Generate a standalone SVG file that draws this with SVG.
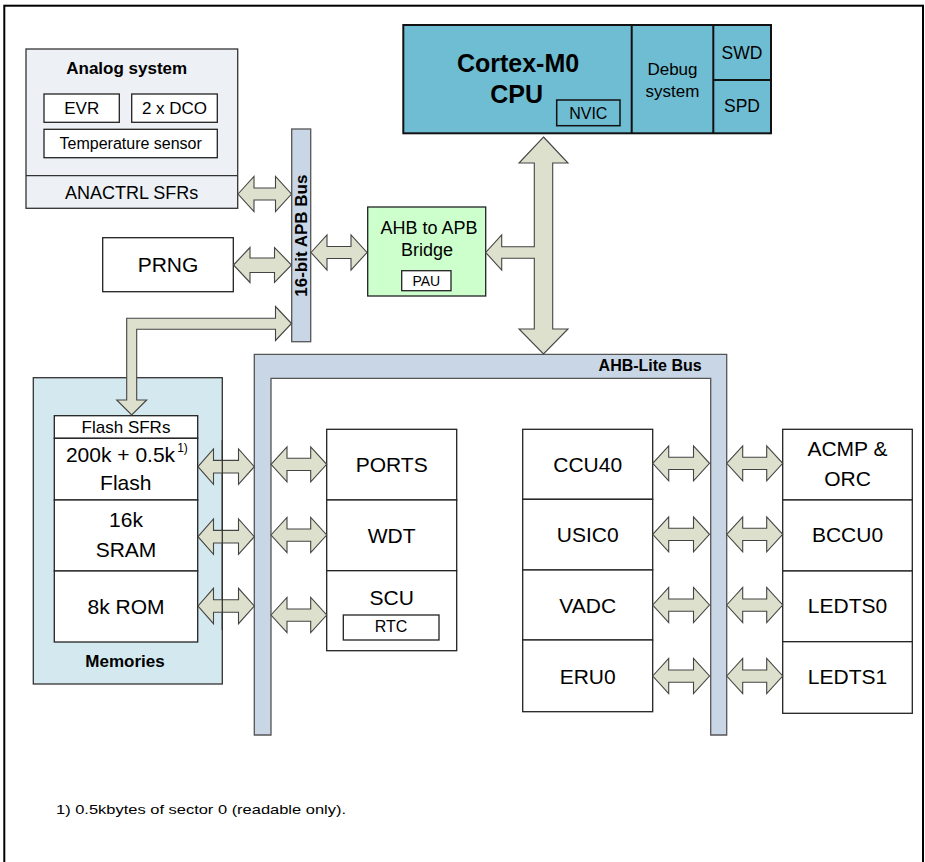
<svg xmlns="http://www.w3.org/2000/svg" width="925" height="862" viewBox="0 0 925 862">
<style>
text{font-family:"Liberation Sans",Arial,sans-serif;fill:#000;text-anchor:middle}
.b{font-weight:bold}
.box{fill:#fff;stroke:#222;stroke-width:1.3}
.arr{fill:#dde0cc;stroke:#444;stroke-width:1.1;stroke-linejoin:miter}
.bus{fill:#c9d6e6;stroke:#555;stroke-width:1.3}
.cpu{fill:#6fbdd2;stroke:#111;stroke-width:2}
</style>
<rect x="4.3" y="5.7" width="918.7" height="870" fill="#fff" stroke="#000" stroke-width="2"/>

<g id="analog">
<rect x="26" y="49" width="211.7" height="159.3" fill="#edf1f6" stroke="#333" stroke-width="1.3"/>
<line x1="26" y1="175.7" x2="237.7" y2="175.7" stroke="#333" stroke-width="1.3"/>
<text class="b" x="126.7" y="73.5" font-size="17">Analog system</text>
<rect class="box" x="44" y="94" width="75.3" height="28.3"/>
<text x="81.7" y="113.5" font-size="17">EVR</text>
<rect class="box" x="131.7" y="94" width="85.6" height="28.3"/>
<text x="174.5" y="113.5" font-size="17">2 x DCO</text>
<rect class="box" x="44" y="129.3" width="173.3" height="28.4"/>
<text x="130.7" y="148.5" font-size="16">Temperature sensor</text>
<text x="131.7" y="199" font-size="18">ANACTRL SFRs</text>
</g>

<g id="prng">
<rect class="box" x="102.7" y="237.7" width="130.6" height="54"/>
<text x="168" y="272" font-size="21">PRNG</text>
</g>

<g id="apb-bus">
<rect class="bus" x="291.7" y="129" width="19" height="212.7"/>
<text class="b" font-size="17" transform="translate(306.5,235.7) rotate(-90)">16-bit APB Bus</text>
</g>

<g id="bridge">
<rect x="367.7" y="207" width="118" height="89" fill="#ccffcc" stroke="#222" stroke-width="1.3"/>
<text x="429" y="233.5" font-size="18">AHB to APB</text>
<text x="427" y="256" font-size="18">Bridge</text>
<rect class="box" x="401.7" y="270.7" width="49.3" height="20" fill="none"/>
<text x="426.3" y="285.5" font-size="14">PAU</text>
</g>

<g id="cpu">
<rect class="cpu" x="403.3" y="25" width="367.7" height="108.3"/>
<line x1="631.7" y1="25" x2="631.7" y2="133.3" stroke="#111" stroke-width="2"/>
<line x1="713.3" y1="25" x2="713.3" y2="133.3" stroke="#111" stroke-width="2"/>
<line x1="713.3" y1="80" x2="771" y2="80" stroke="#111" stroke-width="2"/>
<text class="b" x="518" y="71.7" font-size="25">Cortex-M0</text>
<text class="b" x="516.7" y="102.7" font-size="25">CPU</text>
<rect x="556.7" y="100" width="63.3" height="25.7" fill="none" stroke="#111" stroke-width="1.5"/>
<text x="588.3" y="118.5" font-size="16">NVIC</text>
<text x="672.5" y="75" font-size="17">Debug</text>
<text x="672.5" y="97.3" font-size="17">system</text>
<text x="742" y="59" font-size="17.5">SWD</text>
<text x="742" y="111.7" font-size="17.5">SPD</text>
</g>

<g id="ahb-bus">
<path class="bus" d="M254.3,354.3 L726.7,354.3 L726.7,735 L710.7,735 L710.7,378.3 L271,378.3 L271,735 L254.3,735 Z"/>
<text class="b" x="701.7" y="370.5" font-size="16" style="text-anchor:end">AHB-Lite Bus</text>
</g>

<g id="memories">
<rect x="33.3" y="377.7" width="189" height="306.3" fill="#d3e9ef" stroke="#333" stroke-width="1.3"/>
<rect class="box" x="54.3" y="415.7" width="143.4" height="22.6"/>
<text x="126" y="432.5" font-size="17">Flash SFRs</text>
<rect class="box" x="54.3" y="438.3" width="143.4" height="61.7"/>
<text x="120.5" y="461.7" font-size="21">200k + 0.5k</text>
<text x="182.5" y="451.7" font-size="12">1)</text>
<text x="125.8" y="490" font-size="21">Flash</text>
<rect class="box" x="54.3" y="500" width="143.4" height="71"/>
<text x="126" y="527.3" font-size="21">16k</text>
<text x="126" y="556.7" font-size="21">SRAM</text>
<rect class="box" x="54.3" y="571" width="143.4" height="71"/>
<text x="126" y="614" font-size="21">8k ROM</text>
<text class="b" x="125" y="666.7" font-size="17">Memories</text>
</g>

<g id="ports">
<rect class="box" x="326.7" y="429.3" width="130" height="70.7"/>
<text x="391.7" y="471.7" font-size="21">PORTS</text>
</g>
<g id="wdt">
<rect class="box" x="326.7" y="500" width="130" height="70.7"/>
<text x="391.7" y="542.7" font-size="21">WDT</text>
</g>
<g id="scu">
<rect class="box" x="326.7" y="570.7" width="130" height="80"/>
<text x="391.7" y="605" font-size="21">SCU</text>
<rect class="box" x="343.3" y="615" width="95.7" height="25"/>
<text x="391" y="632.3" font-size="16">RTC</text>
</g>

<g id="ccu40"><rect class="box" x="522.7" y="429.3" width="130" height="70"/><text x="587.7" y="471.7" font-size="21">CCU40</text></g>
<g id="usic0"><rect class="box" x="522.7" y="499.3" width="130" height="70.7"/><text x="587.7" y="542.3" font-size="21">USIC0</text></g>
<g id="vadc"><rect class="box" x="522.7" y="570" width="130" height="70"/><text x="587.7" y="613.3" font-size="21">VADC</text></g>
<g id="eru0"><rect class="box" x="522.7" y="640" width="130" height="71.7"/><text x="587.7" y="684" font-size="21">ERU0</text></g>

<g id="acmp"><rect class="box" x="782.7" y="429.3" width="129.6" height="70.7"/><text x="847.5" y="456" font-size="21">ACMP &amp;</text><text x="847.5" y="485.7" font-size="21">ORC</text></g>
<g id="bccu0"><rect class="box" x="782.7" y="500" width="129.6" height="71"/><text x="847.5" y="542.3" font-size="21">BCCU0</text></g>
<g id="ledts0"><rect class="box" x="782.7" y="571" width="129.6" height="70.7"/><text x="847.5" y="613.3" font-size="21">LEDTS0</text></g>
<g id="ledts1"><rect class="box" x="782.7" y="641.7" width="129.6" height="71.6"/><text x="847.5" y="684" font-size="21">LEDTS1</text></g>

<g id="connectors">
<path class="arr" d="M238,194 L254,176.5 L254,188 L275.5,188 L275.5,176.5 L291.5,194 L275.5,211.5 L275.5,200 L254,200 L254,211.5 Z"/>
<path class="arr" d="M233.5,265 L250,247.5 L250,258 L274.5,258 L274.5,247.5 L291.5,265 L274.5,282.5 L274.5,272.5 L250,272.5 L250,282.5 Z"/>
<path class="arr" d="M311,252.5 L327,235 L327,246.5 L351,246.5 L351,235 L367,252.5 L351,270 L351,258.5 L327,258.5 L327,270 Z"/>
<path class="arr" d="M291.5,323.5 L275.5,306.5 L275.5,318.3 L126.7,318.3 L126.7,400 L116.7,400 L131.7,415 L146.7,400 L136.7,400 L136.7,329.3 L275.5,329.3 L275.5,340.5 Z"/>
<path class="arr" d="M543.5,137 L568,163 L552.7,163 L552.7,329 L568,329 L543.5,354 L519,329 L534.3,329 L534.3,258.3 L501.7,258.3 L501.7,270 L485.7,252.5 L501.7,235 L501.7,246.7 L534.3,246.7 L534.3,163 L519,163 Z"/>

<path class="arr" d="M198,466.7 L213.5,449 L213.5,460.4 L238.5,460.4 L238.5,449 L254.3,466.7 L238.5,484.4 L238.5,473 L213.5,473 L213.5,484.4 Z"/>
<path class="arr" d="M198,536.7 L213.5,519 L213.5,530.4 L238.5,530.4 L238.5,519 L254.3,536.7 L238.5,554.4 L238.5,543 L213.5,543 L213.5,554.4 Z"/>
<path class="arr" d="M198,606 L213.5,588.3 L213.5,599.7 L238.5,599.7 L238.5,588.3 L254.3,606 L238.5,623.7 L238.5,612.3 L213.5,612.3 L213.5,623.7 Z"/>
<line x1="222.3" y1="440" x2="222.3" y2="630" stroke="#333" stroke-width="1.3"/>

<path class="arr" d="M271,464.3 L287,446.8 L287,458.3 L310.7,458.3 L310.7,446.8 L326.7,464.3 L310.7,481.8 L310.7,470.5 L287,470.5 L287,481.8 Z"/>
<path class="arr" d="M271,535 L287,517.5 L287,529 L310.7,529 L310.7,517.5 L326.7,535 L310.7,552.5 L310.7,541.2 L287,541.2 L287,552.5 Z"/>
<path class="arr" d="M271,615 L287,597.5 L287,609 L310.7,609 L310.7,597.5 L326.7,615 L310.7,632.5 L310.7,621.2 L287,621.2 L287,632.5 Z"/>

<path class="arr" d="M652.7,463.3 L668.7,445.8 L668.7,457.3 L693.5,457.3 L693.5,445.8 L709.5,463.3 L693.5,480.8 L693.5,469.5 L668.7,469.5 L668.7,480.8 Z"/>
<path class="arr" d="M652.7,534.3 L668.7,516.8 L668.7,528.3 L693.5,528.3 L693.5,516.8 L709.5,534.3 L693.5,551.8 L693.5,540.5 L668.7,540.5 L668.7,551.8 Z"/>
<path class="arr" d="M652.7,605 L668.7,587.5 L668.7,599 L693.5,599 L693.5,587.5 L709.5,605 L693.5,622.5 L693.5,611.2 L668.7,611.2 L668.7,622.5 Z"/>
<path class="arr" d="M652.7,676 L668.7,658.5 L668.7,670 L693.5,670 L693.5,658.5 L709.5,676 L693.5,693.5 L693.5,682.2 L668.7,682.2 L668.7,693.5 Z"/>

<path class="arr" d="M726.7,463.3 L742.7,445.8 L742.7,457.3 L766.7,457.3 L766.7,445.8 L782.7,463.3 L766.7,480.8 L766.7,469.5 L742.7,469.5 L742.7,480.8 Z"/>
<path class="arr" d="M726.7,534.3 L742.7,516.8 L742.7,528.3 L766.7,528.3 L766.7,516.8 L782.7,534.3 L766.7,551.8 L766.7,540.5 L742.7,540.5 L742.7,551.8 Z"/>
<path class="arr" d="M726.7,605 L742.7,587.5 L742.7,599 L766.7,599 L766.7,587.5 L782.7,605 L766.7,622.5 L766.7,611.2 L742.7,611.2 L742.7,622.5 Z"/>
<path class="arr" d="M726.7,676 L742.7,658.5 L742.7,670 L766.7,670 L766.7,658.5 L782.7,676 L766.7,693.5 L766.7,682.2 L742.7,682.2 L742.7,693.5 Z"/>
</g>

<text x="56" y="814" font-size="13" style="text-anchor:start" textLength="290" lengthAdjust="spacingAndGlyphs">1) 0.5kbytes of sector 0 (readable only).</text>
</svg>
